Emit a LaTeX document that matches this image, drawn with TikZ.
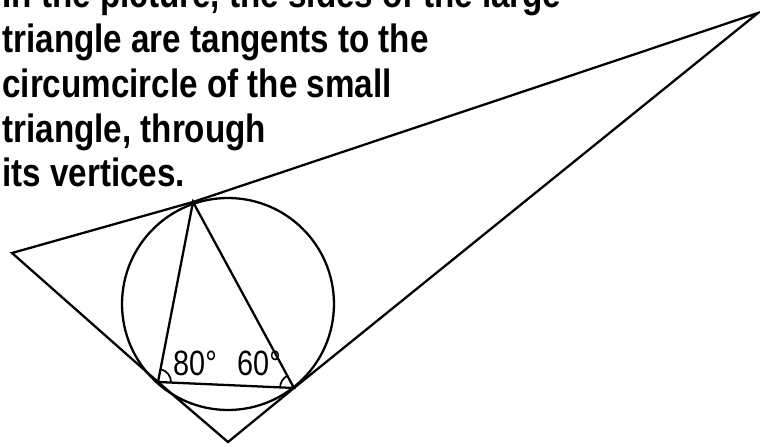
\documentclass[tikz,border=0pt]{standalone}
\usepackage{fontspec}
\newfontfamily\probfont{Liberation Sans}[FakeStretch=0.84]
\newfontfamily\labfont{Liberation Sans}[FakeStretch=0.82]
\usetikzlibrary{angles}

\tikzset{
  figline/.style={line width=1.3pt, black},
  problem/.style={align=left, inner sep=0pt,
    font=\probfont\bfseries\fontsize{22.5}{25.6}\selectfont},
  anglelabel/.style={inner sep=0pt, font=\labfont\fontsize{20}{22}\selectfont}
}

\begin{document}
\begin{tikzpicture}[x=0.02cm, y=0.02cm]

  %% Frame of the scanned page
  \path[use as bounding box, clip] (0,0) rectangle (760,446);

  %% Problem text (base is the last line)
  \node[problem, anchor=base west] (question) at (2,259)
    {In the picture, the sides of the large\\
     triangle are tangents to the\\
     circumcircle of the small\\
     triangle, through\\
     its vertices.};

  %% Circumcircle
  \coordinate (O) at (228,142);
  \draw[figline] (O) circle[radius=2.12cm];

  %% Small triangle (on the circle)
  \coordinate (A) at (193,244);
  \coordinate (B) at (158,64);
  \coordinate (C) at (294,58);
  \draw[figline] (A) -- (B) -- (C) -- cycle;

  %% Large triangle (tangents through A, B, C)
  \coordinate (L) at (12,193);
  \coordinate (R) at (758,433);
  \coordinate (T) at (228,4);
  \draw[figline, line join=miter]
    (L) -- (A) -- (R) -- (C) -- (T) -- (B) -- cycle;

  %% Angles of the small triangle
  \pic[draw, line width=1pt, angle radius=0.26cm] {angle=C--B--A};
  \pic[draw, line width=1pt, angle radius=0.28cm] {angle=A--C--B};
  \node[anglelabel] (angB) at (195,83) {80°};
  \node[anglelabel] (angC) at (259,83) {60°};

\end{tikzpicture}
\end{document}
